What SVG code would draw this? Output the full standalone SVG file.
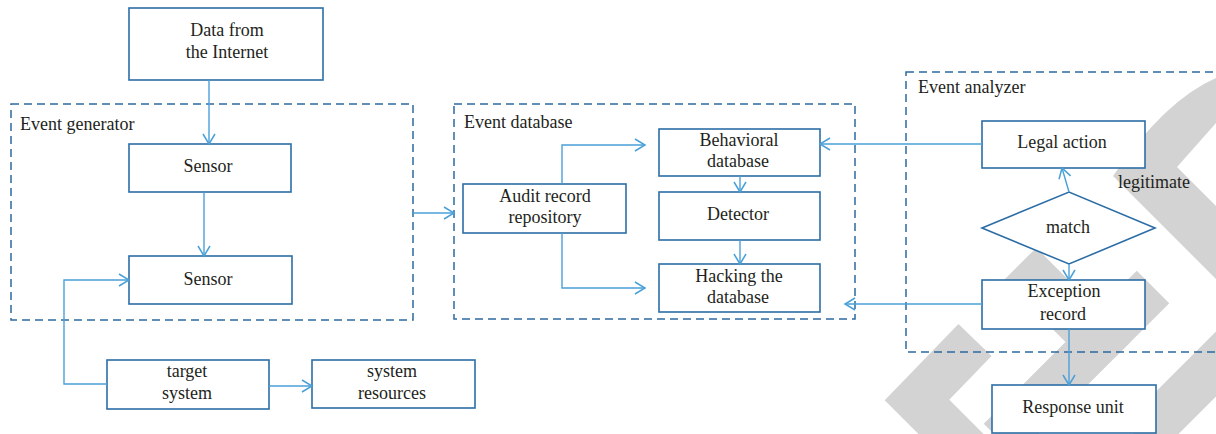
<svg xmlns="http://www.w3.org/2000/svg" width="1216" height="434" viewBox="0 0 1216 434">
<defs>
<style>
.wm{fill:none;stroke:#d3d3d3;stroke-width:46;stroke-linejoin:miter;stroke-linecap:butt}
.box{fill:#fff;stroke:#2c6da6;stroke-width:1.6}
.grp{fill:none;stroke:#2c6a9e;stroke-width:1.5;stroke-dasharray:8 5}
.cn{fill:none;stroke:#4aa0d8;stroke-width:1.4}
text{font-family:"Liberation Serif","Times New Roman",serif;font-size:18px;fill:#231f20}
.c{text-anchor:middle}
</style>
<marker id="ar" markerUnits="userSpaceOnUse" markerWidth="14" markerHeight="16" refX="12" refY="8" orient="auto">
<path d="M2,2 L12,8 L2,14" fill="none" stroke="#4aa0d8" stroke-width="1.5"/>
</marker>
</defs>
<rect width="1216" height="434" fill="#fff"/>
<g id="watermark">
<path d="M1216,78 Q1165,100 1113,176 L1216,279 L1216,206 L1177,167 L1216,123 Z" fill="#d3d3d3"/>
<polyline class="wm" points="975,340 917,400 1000,483"/>
<polyline class="wm" points="1020,264 1098,342 1000,440"/>
<polyline class="wm" points="1153,287 1098,342"/>
<polyline class="wm" points="1260,320 1140,440"/>
</g>
<g id="event-generator">
<rect class="grp" x="11" y="104" width="402" height="216"/>
<text x="20" y="130">Event generator</text>
</g>
<g id="event-database">
<rect class="grp" x="454" y="104" width="401" height="215"/>
<text x="464" y="128">Event database</text>
</g>
<g id="event-analyzer">
<rect class="grp" x="906" y="72" width="320" height="280"/>
<text x="918" y="93">Event analyzer</text>
</g>
<g id="data-internet">
<rect class="box" x="129" y="8" width="194" height="72"/>
<text class="c" x="227" y="36">Data from</text>
<text class="c" x="227" y="58">the Internet</text>
</g>
<g id="sensor1">
<rect class="box" x="129" y="144" width="162" height="48"/>
<text class="c" x="208" y="172">Sensor</text>
</g>
<g id="sensor2">
<rect class="box" x="129" y="256" width="163" height="48"/>
<text class="c" x="208" y="285">Sensor</text>
</g>
<g id="target-system">
<rect class="box" x="107" y="360" width="162" height="49"/>
<text class="c" x="187" y="377">target</text>
<text class="c" x="187" y="399">system</text>
</g>
<g id="system-resources">
<rect class="box" x="312" y="360" width="163" height="48"/>
<text class="c" x="392" y="377">system</text>
<text class="c" x="392" y="399">resources</text>
</g>
<g id="audit">
<rect class="box" x="463" y="184" width="163" height="49"/>
<text class="c" x="545" y="202">Audit record</text>
<text class="c" x="545" y="223">repository</text>
</g>
<g id="behavioral">
<rect class="box" x="659" y="129" width="161" height="47"/>
<text class="c" x="739" y="146">Behavioral</text>
<text class="c" x="738" y="167">database</text>
</g>
<g id="detector">
<rect class="box" x="659" y="192" width="161" height="48"/>
<text class="c" x="738" y="220">Detector</text>
</g>
<g id="hacking">
<rect class="box" x="659" y="264" width="161" height="48"/>
<text class="c" x="739" y="282">Hacking the</text>
<text class="c" x="738" y="303">database</text>
</g>
<g id="legal">
<rect class="box" x="982" y="121" width="163" height="47"/>
<text class="c" x="1062" y="148">Legal action</text>
</g>
<g id="legitimate-label">
<text x="1118" y="188">legitimate</text>
</g>
<g id="match">
<polygon class="box" points="982,228 1069,192 1155,228 1069,264"/>
<text class="c" x="1068" y="233">match</text>
</g>
<g id="exception">
<rect class="box" x="982" y="280" width="163" height="49"/>
<text class="c" x="1064" y="297">Exception</text>
<text class="c" x="1063" y="320">record</text>
</g>
<g id="response">
<rect class="box" x="992" y="385" width="164" height="48"/>
<text class="c" x="1073" y="413">Response unit</text>
</g>
<g id="connectors">
<path class="cn" d="M209,80 V144" marker-end="url(#ar)"/>
<path class="cn" d="M204,192 V256" marker-end="url(#ar)"/>
<path class="cn" d="M107,384 H64 V280 H129" marker-end="url(#ar)"/>
<path class="cn" d="M269,386 H312" marker-end="url(#ar)"/>
<path class="cn" d="M413,213 H454" marker-end="url(#ar)"/>
<path class="cn" d="M562,184 V145 H645" marker-end="url(#ar)"/>
<path class="cn" d="M562,233 V288 H645" marker-end="url(#ar)"/>
<path class="cn" d="M740,176 V192" marker-end="url(#ar)"/>
<path class="cn" d="M740,240 V264" marker-end="url(#ar)"/>
<path class="cn" d="M982,144 H820" marker-end="url(#ar)"/>
<path class="cn" d="M982,304 H845" marker-end="url(#ar)"/>
<path class="cn" d="M1069,192 L1062,168" marker-end="url(#ar)"/>
<path class="cn" d="M1069,264 V280" marker-end="url(#ar)"/>
<path class="cn" d="M1069,329 V385" marker-end="url(#ar)"/>
</g>
</svg>
